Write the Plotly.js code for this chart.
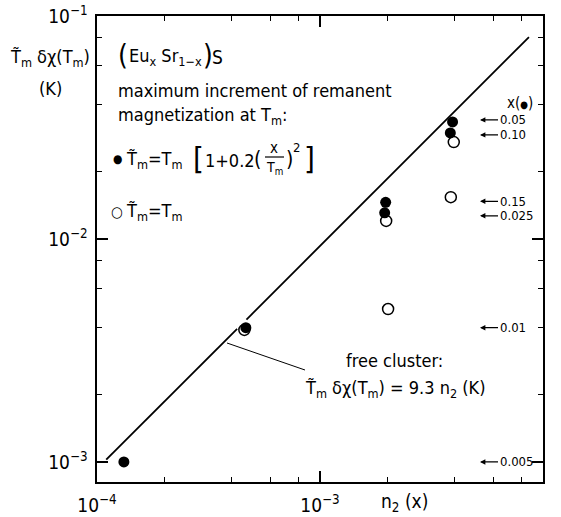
<!DOCTYPE html>
<html>
<head>
<meta charset="utf-8">
<script src="https://cdn.plot.ly/plotly-3.0.1.min.js"></script>
<style>
  html, body { margin: 0; padding: 0; background: #fff; }
  #chart { width: 561px; height: 517px; }
</style>
</head>
<body>
<div id="chart"></div>
<script>
// (Eu_x Sr_1-x)S: maximum increment of remanent magnetization at T_m vs n2(x)

// filled circles: T~m = Tm [1 + 0.2 (x/Tm)^2]
const filledN2   = [1.32e-4, 4.65e-4, 1.95e-3, 1.97e-3, 3.84e-3, 3.93e-3];
const filledVal  = [1.00e-3, 4.00e-3, 0.0131, 0.0146, 0.0299, 0.0335];
const filledConc = ['0.005', '0.01', '0.025', '0.15', '0.10', '0.05'];

// open circles: T~m = Tm
const openN2  = [4.58e-4, 1.98e-3, 2.02e-3, 3.86e-3, 3.98e-3];
const openVal = [3.91e-3, 0.01205, 4.85e-3, 0.0154, 0.0272];

// free cluster line: T~m dchi(Tm) = 9.3 n2 (K), broken where it meets the point near 4.6e-4
const clusterSlope = 9.3;
const clusterN2 = [1.1e-4, 4.25e-4, null, 4.68e-4, 8.65e-3];
const clusterVal = clusterN2.map(v => v === null ? null : clusterSlope * v);

// axis ticks
const xMajor = [1e-4, 1e-3, 1e-2];
const xMajorText = ['10<sup>\u22124</sup>', '10<sup>\u22123</sup>', '10<sup>\u22122</sup>'];
const yMajor = [1e-3, 1e-2, 1e-1];
const yMajorText = ['10<sup>\u22123</sup>', '10<sup>\u22122</sup>', '10<sup>\u22121</sup>'];
const minorMantissa = [2, 4, 6, 8];

const minorTicks = (decades) => decades.flatMap(d => minorMantissa.map(m => m * d));
const xMinor = minorTicks([1e-4, 1e-3]);
const yMinor = minorTicks([1e-4, 1e-3, 1e-2]);

const FONT = "'DejaVu Sans Condensed', 'DejaVu Sans', sans-serif";

// plot frame in pixels
const M = { l: 97, r: 18, t: 16, b: 35 };
const W = 561, H = 517;
const PW = W - M.l - M.r, PH = H - M.t - M.b;
const px = x => (x - M.l) / PW;
const py = y => (H - M.b - y) / PH;

function txt(x, y, text, size, opts) {
  return Object.assign({
    xref: 'paper', yref: 'paper', x: px(x), y: py(y), text: text,
    showarrow: false, xanchor: 'left', yanchor: 'middle',
    font: { family: FONT, size: size || 18, color: '#000' }
  }, opts || {});
}

const annotations = [
  // y-axis title
  txt(50, 58, 'T\u0303<sub>m</sub> \u03b4\u03c7(T<sub>m</sub>)', 18, { xanchor: 'center' }),
  txt(50, 89, '(K)', 18, { xanchor: 'center' }),
  // x-axis title
  txt(404, 502, 'n<sub>2</sub> (x)', 19, { xanchor: 'center' }),

  // compound
  txt(116, 56, '(', 28),
  txt(127, 57, 'Eu<sub>x</sub> Sr<sub>1\u2212x</sub>', 18),
  txt(201, 56, ')', 28),
  txt(210, 57, 'S', 19),

  txt(116, 90, 'maximum increment of remanent', 18),
  txt(116, 116, 'magnetization at T<sub>m</sub>:', 18),

  // key: filled
  txt(111, 159, '\u25cf', 12),
  txt(124, 160, 'T\u0303<sub>m</sub>=T<sub>m</sub>', 18),
  txt(191, 158, '[', 31),
  txt(203, 160, '1+0.2', 18),
  txt(252, 159, '(', 21),
  txt(274, 148, 'x', 15, { xanchor: 'center' }),
  txt(274, 168, 'T<sub>m</sub>', 14, { xanchor: 'center' }),
  txt(284, 159, ')', 21),
  txt(291, 147, '2', 13),
  txt(302, 158, ']', 31),

  // key: open
  txt(109, 212, '\u25cb', 15),
  txt(124, 212, 'T\u0303<sub>m</sub>=T<sub>m</sub>', 18),

  // free cluster label
  txt(394, 360, 'free cluster:', 18, { xanchor: 'center' }),
  txt(395, 389, 'T\u0303<sub>m</sub> \u03b4\u03c7(T<sub>m</sub>) = 9.3 n<sub>2</sub> (K)', 18, { xanchor: 'center' }),

  // concentration key header
  txt(505, 103, 'x(<span style="font-size:10px">\u25cf</span>)', 15)
];

// arrows marking the concentration of each filled point;
// close pairs are nudged apart so their labels stay readable
const arrowNudge = { '0.05': 2, '0.10': -2, '0.15': 1, '0.025': -3 };
filledVal.forEach((v, i) => {
  annotations.push({
    xref: 'paper', yref: 'y', x: px(480), y: Math.log10(v),
    yshift: arrowNudge[filledConc[i]] || 0,
    text: filledConc[i], showarrow: true,
    ax: 18, ay: 0, xanchor: 'left', yanchor: 'middle',
    arrowhead: 2, arrowsize: 0.9, arrowwidth: 1.2, arrowcolor: '#000', standoff: 0,
    font: { family: FONT, size: 13, color: '#000' }
  });
});

const traces = [
  {
    x: clusterN2, y: clusterVal, mode: 'lines', connectgaps: false,
    line: { color: '#000', width: 1.8 }, hoverinfo: 'skip'
  },
  {
    x: openN2, y: openVal, mode: 'markers',
    marker: { symbol: 'circle', size: 11, color: '#fff', line: { color: '#000', width: 1.5 } }
  },
  {
    x: filledN2, y: filledVal, mode: 'markers',
    marker: { symbol: 'circle', size: 11, color: '#000', line: { color: '#000', width: 0 } }
  }
];

const axisBase = {
  type: 'log', showgrid: false, zeroline: false,
  showline: true, linecolor: '#000', linewidth: 1.6, mirror: 'allticks',
  ticks: 'inside', ticklen: 11, tickwidth: 1.3, tickcolor: '#000',
  tickmode: 'array',
  tickfont: { family: FONT, size: 19, color: '#000' }
};

const layout = {
  width: W, height: H,
  margin: M,
  paper_bgcolor: '#fff', plot_bgcolor: '#fff',
  showlegend: false,
  xaxis: Object.assign({}, axisBase, {
    range: [-4, -2], tickvals: xMajor, ticktext: xMajorText, ticklabelstandoff: 6,
    minor: { tickmode: 'array', tickvals: xMinor, ticks: 'inside', ticklen: 5, tickwidth: 1.2, tickcolor: '#000', showgrid: false }
  }),
  yaxis: Object.assign({}, axisBase, {
    range: [-3.09, -1], tickvals: yMajor, ticktext: yMajorText, ticklabelstandoff: 4,
    minor: { tickmode: 'array', tickvals: yMinor, ticks: 'inside', ticklen: 5, tickwidth: 1.2, tickcolor: '#000', showgrid: false }
  }),
  annotations: annotations,
  shapes: [
    // fraction bar of x/Tm
    { type: 'line', xref: 'paper', yref: 'paper', x0: px(265), x1: px(284), y0: py(157), y1: py(157), line: { color: '#000', width: 1.2 } },
    // leader from label to the cluster line
    { type: 'line', xref: 'paper', yref: 'paper', x0: px(227), x1: px(305), y0: py(343), y1: py(370), line: { color: '#000', width: 1 } }
  ]
};

Plotly.newPlot('chart', traces, layout, { displayModeBar: false, staticPlot: true });
</script>
</body>
</html>
